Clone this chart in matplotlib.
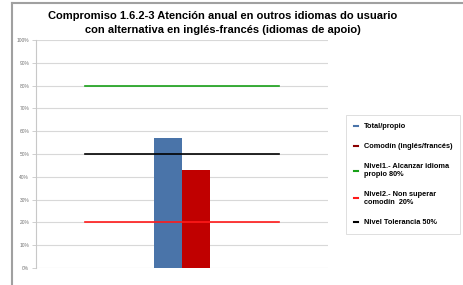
import numpy as np
import matplotlib.pyplot as plt
from matplotlib.lines import Line2D

# datos
categorias = ['', '', '']
total_propio = 57
comodin = 43
nivel1 = [80, 80, 80]
nivel2 = [20, 20, 20]
tolerancia = [50, 50, 50]
yticks = [0, 10, 20, 30, 40, 50, 60, 70, 80, 90, 100]

titulo = ('Compromiso 1.6.2-3 Atención anual en outros idiomas do usuario\n'
          'con alternativa en inglés-francés (idiomas de apoio)')
etiquetas = ['Total/propio', 'Comodín (inglés/francés)',
             'Nivel1.- Alcanzar idioma\npropio 80%',
             'Nivel2.- Non superar\ncomodín  20%',
             'Nivel Tolerancia 50%']

plt.rcParams['font.family'] = ['Liberation Sans', 'DejaVu Sans']

fig = plt.figure(figsize=(4.64, 2.85), dpi=100)
ax = fig.add_axes([36/464, 1-268/285, 292/464, 228/285])

x = np.arange(len(categorias))
w = 0.288
ax.bar(1 - w/2, total_propio, width=w, color='#4a74a9', zorder=2)
ax.bar(1 + w/2, comodin, width=w, color='#c00000', zorder=2)

ax.plot(x, nivel1, color='#18a018', lw=1.2, zorder=3)
ax.plot(x, nivel2, color='#ff1a1a', lw=1.2, zorder=3)
ax.plot(x, tolerancia, color='black', lw=1.2, zorder=3)

ax.set_xlim(-0.5, 2.5)
ax.set_ylim(0, 100)
ax.set_yticks(yticks)
ax.set_yticklabels([f'{v}%' for v in yticks], fontsize=3.5, color='#707070')
ax.set_xticks([])
ax.yaxis.grid(True, color='#d8d8d8', lw=0.8, zorder=0)
for s in ['top', 'right', 'bottom']:
    ax.spines[s].set_visible(False)
ax.spines['left'].set_color('#c8c8c8')
ax.spines['left'].set_linewidth(0.8)
ax.tick_params(axis='y', length=3, width=0.6, color='#c8c8c8', pad=2)

ax.set_title(titulo, fontsize=8.0, fontweight='bold', x=0.64, y=1.0, pad=5,
             linespacing=1.45)

handles = [Line2D([], [], color=c, lw=1.5) for c in
           ['#4a74a9', '#8b0000', '#18a018', '#ff1a1a', 'black']]
leg = fig.legend(handles, etiquetas, loc='upper left',
                 bbox_to_anchor=(346/464, 1-115/285),
                 prop={'weight': 'bold', 'size': 5.3},
                 handlelength=0.5, handletextpad=0.8, labelspacing=1.75,
                 borderpad=1.1, frameon=True, fancybox=False, borderaxespad=0)
leg.get_frame().set_edgecolor('#d0d0d0')
leg.get_frame().set_linewidth(0.6)

# marco exterior
fig.add_artist(Line2D([12/464, 12/464], [0, 1-3/285], color='#a0a0a0', lw=1.5))
fig.add_artist(Line2D([12/464, 1], [1-3/285, 1-3/285], color='#a0a0a0', lw=1.5))

fig.savefig('out.png', dpi=100)
